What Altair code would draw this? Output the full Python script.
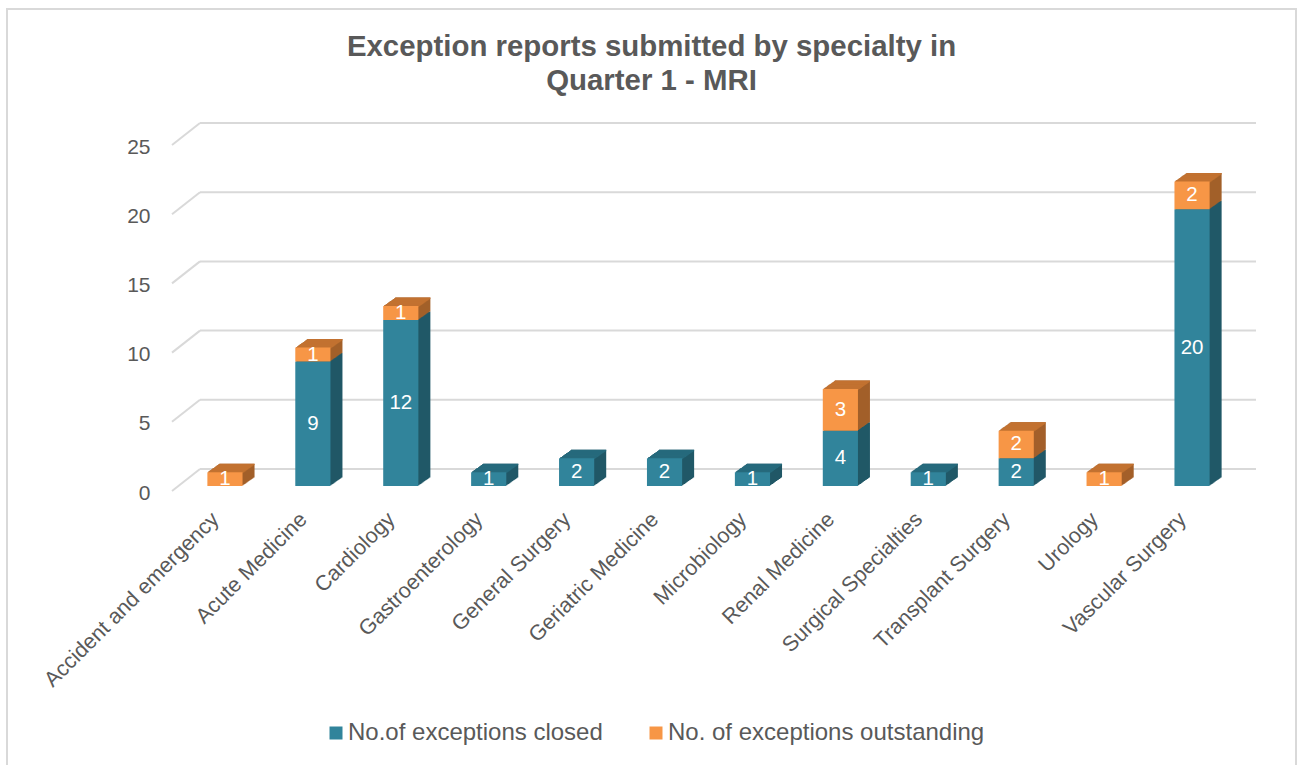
import altair as alt
import pandas as pd

categories = ["Accident and emergency", "Acute Medicine", "Cardiology", "Gastroenterology",
              "General Surgery", "Geriatric Medicine", "Microbiology", "Renal Medicine",
              "Surgical Specialties", "Transplant Surgery", "Urology", "Vascular Surgery"]
closed = [0, 9, 12, 1, 2, 2, 1, 4, 1, 2, 0, 20]
outstanding = [1, 1, 1, 0, 0, 0, 0, 3, 0, 2, 1, 2]
series_names = ["No.of exceptions closed", "No. of exceptions outstanding"]
y_ticks = [0, 5, 10, 15, 20, 25]
title_lines = ["Exception reports submitted by specialty in", "Quarter 1 - MRI"]

TEAL, TEAL_SIDE, TEAL_TOP = "#31849B", "#215867", "#266A7C"
ORANGE, ORANGE_SIDE, ORANGE_TOP = "#F79646", "#A3602A", "#C27230"
GRID = "#D9D9D9"
TXT = "#595959"
FONT = "Liberation Sans"

df = pd.DataFrame({"category": categories, "closed": closed, "outstanding": outstanding})
grid_df = pd.DataFrame({"v": y_ticks})
frame_df = pd.DataFrame({"f": [0]})

base = alt.Chart(df).transform_calculate(
    total="datum.closed + datum.outstanding",
    closed_mid="datum.closed / 2",
    out_mid="datum.closed + datum.outstanding / 2",
    top_col=f"datum.outstanding > 0 ? '{ORANGE_TOP}' : '{TEAL_TOP}'",
    s_closed=f"'{series_names[0]}'",
    s_out=f"'{series_names[1]}'",
)

x_enc = alt.X("category:N", sort=categories,
              scale=alt.Scale(paddingInner=0.6, paddingOuter=0.3),
              axis=alt.Axis(title=None, labelAngle=-45, labelAlign="right", labelBaseline="middle",
                            labelFontSize=21.5, labelColor=TXT, labelPadding=30, labelOffset=-9,
                            ticks=False, domain=False, grid=False, labelLimit=0, labelFont=FONT))
y_scale = alt.Scale(domain=[0, 25], nice=False, zero=True)
y_axis = alt.Axis(title=None, values=y_ticks, grid=False, ticks=False, domain=False,
                  labelPadding=31, labelOffset=7, labelFontSize=21, labelColor=TXT, labelFont=FONT)


def Y(field):
    return alt.Y(field, scale=y_scale, axis=y_axis)


layers = []

# outer frame
layers.append(alt.Chart(frame_df).mark_rect(fillOpacity=0, stroke=GRID, strokeWidth=2).encode(
    x=alt.value(-174), x2=alt.value(1115), y=alt.value(-131), y2=alt.value(700)))

# back wall gridlines and diagonal connectors
layers.append(alt.Chart(grid_df).mark_rule(color=GRID, strokeWidth=2, yOffset=-17).encode(
    x=alt.value(19), x2=alt.value(1075), y=Y("v:Q")))
layers.append(alt.Chart(grid_df).mark_rule(color=GRID, strokeWidth=2, yOffset=5, y2Offset=-17).encode(
    x=alt.value(-9), x2=alt.value(19), y=Y("v:Q"), y2="v:Q"))

N = 12
DX, DY = 12.0, 8.5
sx, sy = DX / N, DY / N

# extrusion: side faces
for k in range(N, 0, -1):
    layers.append(base.mark_bar(color=TEAL_SIDE, xOffset=k * sx, x2Offset=k * sx,
                                yOffset=-k * sy, y2Offset=-k * sy).encode(
        x=x_enc, y=Y("closed:Q"), y2=alt.datum(0)))
for k in range(N, 0, -1):
    layers.append(base.mark_bar(color=ORANGE_SIDE, xOffset=k * sx, x2Offset=k * sx,
                                yOffset=-k * sy, y2Offset=-k * sy).encode(
        x=x_enc, y=Y("total:Q"), y2="closed:Q"))
# top faces
for k in range(N, 0, -1):
    layers.append(base.mark_bar(xOffset=k * sx, x2Offset=k * sx,
                                yOffset=-k * sy, y2Offset=-k * sy + sy + 0.7).encode(
        x=x_enc, y=Y("total:Q"), y2="total:Q", color=alt.Color("top_col:N", scale=None)))

color_scale = alt.Scale(domain=series_names, range=[TEAL, ORANGE])
legend = alt.Legend(title=None, orient="none", legendX=143, legendY=581, direction="horizontal",
                    symbolType="square", symbolSize=169, symbolStrokeWidth=0, labelFontSize=24,
                    labelColor=TXT, labelFont=FONT, columnPadding=41, padding=0, labelOffset=0,
                    labelLimit=0)

# front faces
layers.append(base.mark_bar().encode(
    x=x_enc, y=Y("closed:Q"), y2=alt.datum(0),
    color=alt.Color("s_closed:N", scale=color_scale, legend=legend)))
layers.append(base.mark_bar().encode(
    x=x_enc, y=Y("total:Q"), y2="closed:Q",
    color=alt.Color("s_out:N", scale=color_scale, legend=legend)))

# data labels
layers.append(base.transform_filter("datum.closed > 0").mark_text(
    color="white", fontSize=20.5, font=FONT, baseline="middle", align="center").encode(
    x=x_enc, y=Y("closed_mid:Q"), text="closed:Q"))
layers.append(base.transform_filter("datum.outstanding > 0").mark_text(
    color="white", fontSize=20.5, font=FONT, baseline="middle", align="center").encode(
    x=x_enc, y=Y("out_mid:Q"), text="outstanding:Q"))

chart = alt.layer(*layers).properties(
    width=1055, height=346,
    autosize="none",
    padding={"left": 181, "top": 140, "right": 62, "bottom": 279},
    title=alt.TitleParams(text=title_lines, fontSize=29.4, fontWeight="bold", color=TXT, font=FONT,
                          anchor="middle", frame="bounds", baseline="bottom", lineHeight=34,
                          offset=-117),
).configure(font=FONT, background="white").configure_view(stroke="transparent", strokeWidth=0)

chart.save("out.html", embed_options={"renderer": "svg", "actions": False})
